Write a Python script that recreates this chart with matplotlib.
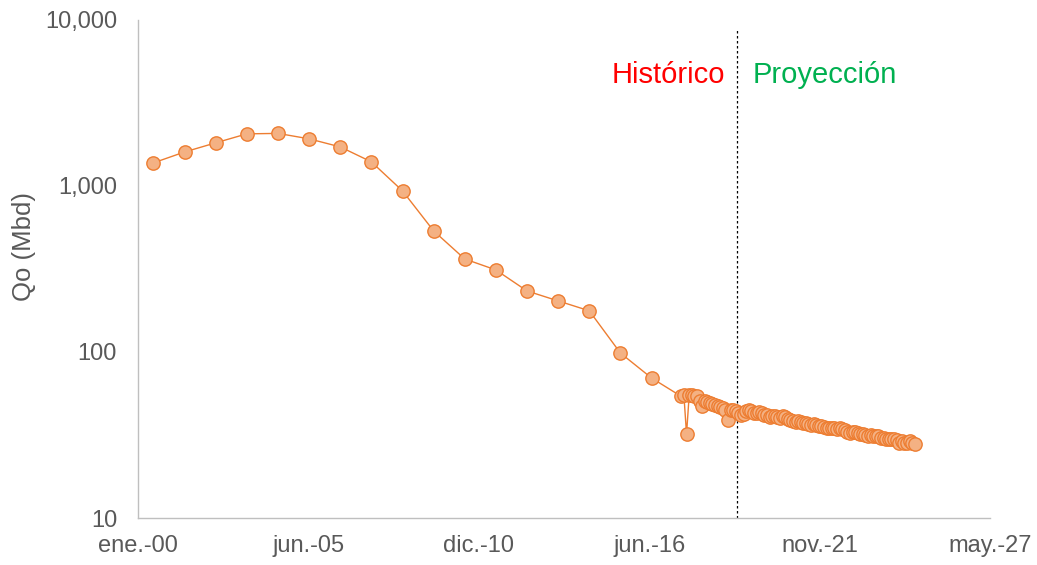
"""Qo (Mbd) history and projection, log scale."""

import datetime as dt

import matplotlib

matplotlib.use("Agg")
import matplotlib.pyplot as plt
import matplotlib.dates as mdates
from matplotlib.ticker import FixedLocator, NullLocator

plt.rcParams["font.family"] = ["Liberation Sans", "DejaVu Sans"]

# Annual points (mid-year), 2000-2016
annual_years = list(range(2000, 2017))
annual_qo = [1376, 1600, 1816, 2057, 2070, 1920, 1717, 1396, 933, 536,
             363, 312, 233, 203, 177, 98.6, 69.7]

# Monthly points, Jun 2017 - Dec 2024
monthly_start = (2017, 6)
monthly_qo = [
    54, 55, 32, 55, 55, 54, 54, 51, 47, 51,
    50, 49, 48.5, 48, 47, 46.5, 46, 45, 39, 45,
    44.5, 44, 43, 42, 42.5, 44, 44.5, 44, 43, 43,
    43.5, 43, 42, 41.5, 40.5, 41, 41, 40.5, 40, 41,
    40.5, 39.5, 39, 38.5, 38, 38.5, 38, 37.5, 37.5, 37,
    36.5, 37, 36.5, 36, 36, 35.5, 35, 35, 35, 35,
    34.5, 35, 34.5, 34, 33, 32.5, 33, 33, 32.5, 32,
    32, 31.5, 31, 31.5, 31, 31, 31, 30.5, 30.5, 30,
    30, 30, 30, 29.5, 28.5, 29, 28.5, 28.5, 29, 28.5,
    28,
]

tick_labels = ["ene.-00", "jun.-05", "dic.-10", "jun.-16", "nov.-21", "may.-27"]
split_date = dt.date(2019, 4, 1)


def main() -> int:
    dates = [dt.date(y, 7, 1) for y in annual_years]
    y0, m0 = monthly_start
    for i in range(len(monthly_qo)):
        m = m0 - 1 + i
        dates.append(dt.date(y0 + m // 12, m % 12 + 1, 15))
    values = annual_qo + monthly_qo
    x = mdates.date2num(dates)

    fig = plt.figure(figsize=(10.37, 5.65), dpi=100)
    ax = fig.add_axes([0.133, 0.083, 0.822, 0.882])

    ax.plot(x, values, "-o", color="#ED7D31", lw=1.0, ms=9.6,
            mfc="#F4B183", mec="#ED7D31", mew=1.0, zorder=3)

    x0 = mdates.date2num(dt.date(2000, 1, 1))
    ticks = [x0 + 2000 * k for k in range(len(tick_labels))]
    ax.set_xlim(ticks[0], ticks[-1])
    ax.set_xticks(ticks)
    ax.set_xticklabels(tick_labels)

    ax.set_yscale("log")
    ax.set_ylim(10, 10000)
    ax.yaxis.set_major_locator(FixedLocator([10, 100, 1000, 10000]))
    ax.yaxis.set_minor_locator(NullLocator())
    ax.set_yticklabels(["10", "100", "1,000", "10,000"])

    ax.tick_params(axis="both", length=0, labelsize=17, colors="#595959")
    ax.tick_params(axis="x", pad=12)
    ax.tick_params(axis="y", pad=15)
    ax.set_ylabel("Qo (Mbd)", fontsize=18.5, color="#595959")
    ax.yaxis.set_label_coords(-0.120, 0.546)

    for side in ("top", "right"):
        ax.spines[side].set_visible(False)
    for side in ("left", "bottom"):
        ax.spines[side].set_color("#BFBFBF")
        ax.spines[side].set_linewidth(1.0)

    xs = mdates.date2num(split_date)
    ax.axvline(xs, ymin=0, ymax=0.98, color="black", lw=0.9, ls=(0, (2, 2)),
               zorder=2)
    ax.text(xs - 141, 4170, "Histórico", color="#FF0000", fontsize=21,
            ha="right", va="baseline")
    ax.text(xs + 176, 4170, "Proyección", color="#00B050", fontsize=21,
            ha="left", va="baseline")

    fig.savefig("out.png", dpi=100)
    return 0


if __name__ == "__main__":
    raise SystemExit(main())
